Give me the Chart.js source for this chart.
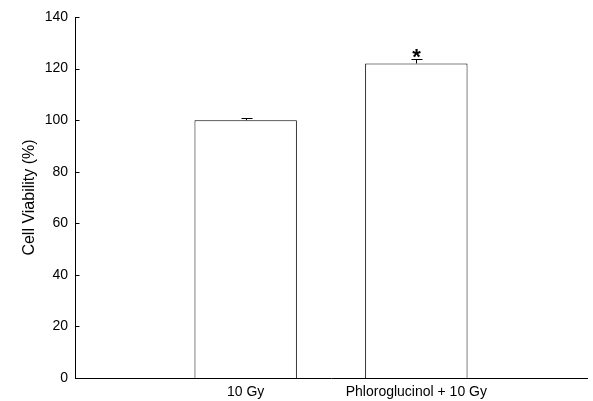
<!DOCTYPE html>
<html>
<head>
<meta charset="utf-8">
<script src="https://cdn.jsdelivr.net/npm/chart.js@4"></script>
<style>
    html, body { margin: 0; padding: 0; background: #fff; }
    #wrap { width: 593px; height: 401px; }
</style>
</head>
<body>
<div id="wrap"><canvas id="barChart" width="593" height="401"></canvas></div>
<script>
// Chart data
const categories = ['', '10 Gy', 'Phloroglucinol + 10 Gy', ''];
const viability = [null, 100, 122, null];
const errors = [null, 0.8, 1.6, null];
const marks = ['', '', '*', ''];
const yTicks = [0, 20, 40, 60, 80, 100, 120, 140];

const FONT = 'Arial, "Liberation Sans", sans-serif';

// Error bars, significance stars and inward y ticks
const extrasPlugin = {
    id: 'extras',
    afterDatasetsDraw(chart) {
        const ctx = chart.ctx;
        const x = chart.scales.x;
        const y = chart.scales.y;
        ctx.save();
        ctx.strokeStyle = '#000';
        ctx.lineWidth = 1;
        viability.forEach((v, i) => {
            if (v === null) return;
            const px = Math.round(x.getPixelForValue(i)) + 0.5;
            const top = y.getPixelForValue(v);
            const errTop = Math.round(y.getPixelForValue(v + errors[i])) + 0.5;
            ctx.beginPath();
            ctx.moveTo(px, top);
            ctx.lineTo(px, errTop);
            ctx.moveTo(px - 5, errTop);
            ctx.lineTo(px + 6, errTop);
            ctx.stroke();
            if (marks[i]) {
                ctx.fillStyle = '#000';
                ctx.font = 'bold 22px ' + FONT;
                ctx.textAlign = 'center';
                ctx.textBaseline = 'alphabetic';
                ctx.fillText(marks[i], px, errTop + 4);
            }
        });
        // tick marks pointing into the plot
        const ax = Math.round(chart.chartArea.left) + 0.5;
        yTicks.forEach(t => {
            const py = Math.round(y.getPixelForValue(t)) + 0.5;
            ctx.beginPath();
            ctx.moveTo(ax, py);
            ctx.lineTo(ax + 4, py);
            ctx.stroke();
        });
        ctx.restore();
    }
};

let barChart;

function initializeChart() {
    barChart = new Chart(document.getElementById('barChart'), {
        type: 'bar',
        data: {
            labels: categories,
            datasets: [{
                data: viability,
                backgroundColor: '#fff',
                borderColor: '#000',
                borderWidth: 1,
                barPercentage: 1,
                categoryPercentage: 0.6
            }]
        },
        options: {
            responsive: false,
            animation: false,
            devicePixelRatio: 1,
            layout: { padding: { left: 0, right: 3, top: 17, bottom: 0 } },
            scales: {
                x: {
                    offset: false,
                    grid: { display: false, drawTicks: false },
                    border: { display: true, color: '#000', width: 1 },
                    ticks: { color: '#000', font: { family: FONT, size: 14 }, padding: 6, maxRotation: 0, autoSkip: false },
                    afterFit(scale) { scale.height = 23; }
                },
                y: {
                    min: 0,
                    max: 140,
                    grid: { display: false, drawTicks: false },
                    border: { display: true, color: '#000', width: 1 },
                    ticks: { stepSize: 20, color: '#000', font: { family: FONT, size: 14 }, padding: 7 },
                    title: {
                        display: true,
                        text: 'Cell Viability (%)',
                        color: '#000',
                        font: { family: FONT, size: 16 },
                        padding: { top: 20, bottom: 0 }
                    },
                    afterFit(scale) { scale.width = 75; }
                }
            },
            plugins: {
                legend: { display: false },
                tooltip: { enabled: false }
            }
        },
        plugins: [extrasPlugin]
    });
}

document.addEventListener('DOMContentLoaded', () => {
    initializeChart();
});
</script>
</body>
</html>
